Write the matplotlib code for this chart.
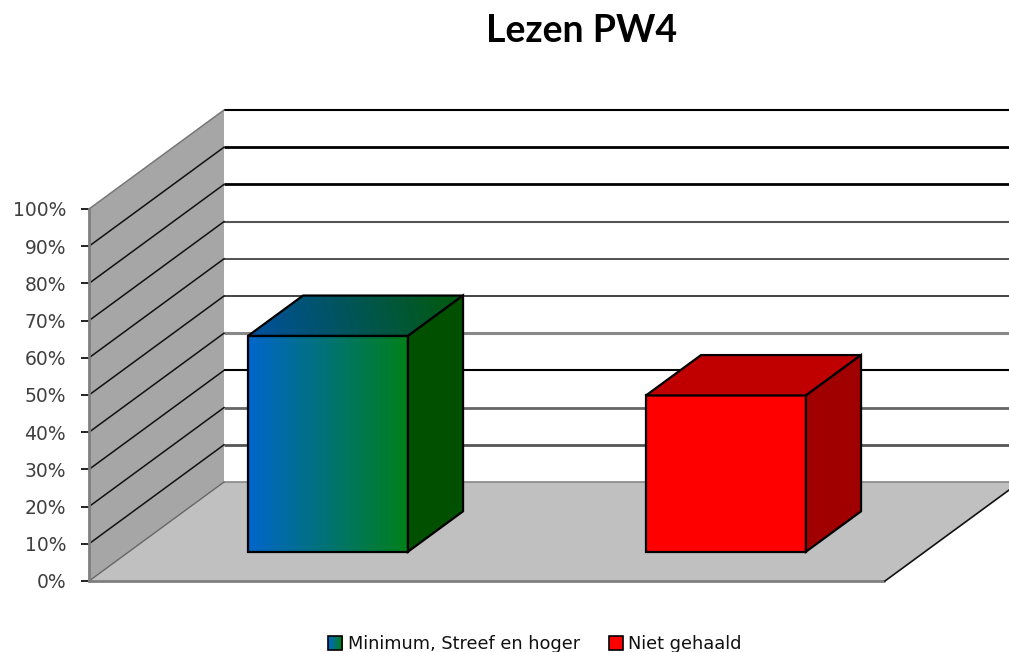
import numpy as np
import matplotlib
matplotlib.use("Agg")
import matplotlib.pyplot as plt
from matplotlib.colors import LinearSegmentedColormap
from matplotlib.legend_handler import HandlerBase
from matplotlib.patches import Patch, Polygon, Rectangle

title = "Lezen PW4"
categories = ["Minimum, Streef en hoger", "Niet gehaald"]
values = [58, 42]
y_ticks = [0, 10, 20, 30, 40, 50, 60, 70, 80, 90, 100]
y_tick_labels = ["0%", "10%", "20%", "30%", "40%", "50%", "60%", "70%", "80%", "90%", "100%"]

W, H = 1009, 652
BAR_W = 0.402
DEPTH_X = 135 / 398          # category units for the full floor depth
DEPTH_Y = 99 / 3.72          # percent units for the full floor depth
BAR_D0, BAR_D1 = 0.296, 0.704
X_MAX = 2.4


def proj(x, y, d=0.0):
    return (x + d * DEPTH_X, y + d * DEPTH_Y)


fig = plt.figure(figsize=(W / 100, H / 100), dpi=100)
ax = fig.add_axes([89 / W, 1 - 581 / H, 796 / W, 372 / H])
ax.set_xlim(0, 2)
ax.set_ylim(0, 100)
ax.patch.set_visible(False)
for s in ("top", "right", "bottom"):
    ax.spines[s].set_visible(False)
ax.spines["left"].set_color("#7f7f7f")
ax.spines["left"].set_linewidth(2)
ax.set_xticks([])
ax.set_yticks(y_ticks)
ax.set_yticklabels(y_tick_labels, fontsize=13.5, color="#404040",
                   family="DejaVu Sans")
ax.tick_params(axis="y", length=6, width=1.3, color="#111111", pad=10.5)


def poly(points, **kw):
    p = Polygon(points, closed=True, clip_on=False, **kw)
    ax.add_patch(p)
    return p


# Walls and floor
poly([proj(0, 0), proj(0, 100), proj(0, 100, 1), proj(0, 0, 1)],
     facecolor="#a6a6a6", edgecolor="none", zorder=1)
poly([proj(0, 0), proj(2, 0), proj(2, 0, 1), proj(X_MAX, 0, 1), proj(0, 0, 1)],
     facecolor="#c0c0c0", edgecolor="none", zorder=1)

# Gridlines
grid_colors = ["#888888", "#555555", "#666666", "#000000", "#888888", "#222222",
               "#333333", "#555555", "#000000", "#000000", "#000000"]
grid_widths = [1.2, 2.0, 2.0, 1.5, 2.2, 1.2, 1.2, 1.5, 2.0, 2.0, 1.5]
for t, c, lw in zip(y_ticks, grid_colors, grid_widths):
    x0, y0 = proj(0, t, 1)
    ax.plot([x0, X_MAX], [y0, y0], color=c, lw=lw, zorder=1.5, clip_on=False,
            solid_capstyle="butt")
    if t > 0:
        xa, ya = proj(0, t)
        ax.plot([xa, x0], [ya, y0], color="#111111" if t < 100 else "#777777",
                lw=1.1, zorder=1.6, clip_on=False)
# Edges of the floor
ax.plot([0, 2], [0, 0], color="#7f7f7f", lw=2, zorder=1.7, clip_on=False,
        solid_capstyle="butt")
ax.plot(*zip(proj(0, 0), proj(0, 0, 1)), color="#666666", lw=1, zorder=1.7, clip_on=False)
ax.plot(*zip(proj(2, 0), proj(2, 0, 1)), color="#111111", lw=1.2, zorder=1.7, clip_on=False)


def rgb(*c):
    return tuple(v / 255 for v in c)


front_cmap = LinearSegmentedColormap.from_list("front", [rgb(0, 102, 204), rgb(0, 128, 26)])
top_cmap = LinearSegmentedColormap.from_list("top", [rgb(0, 80, 160), rgb(0, 90, 16)])
ramp = np.linspace(0, 1, 256).reshape(1, -1)
diag = np.add.outer(np.linspace(0.05, 0, 64), np.linspace(0, 1, 256))

fills = [
    dict(front=front_cmap, top=top_cmap, side="#005000"),
    dict(front="#ff0000", top="#c00000", side="#a00000"),
]

for i, (v, f) in enumerate(zip(values, fills)):
    cx = i + 0.5
    x0, x1 = cx - BAR_W / 2, cx + BAR_W / 2
    a, b = BAR_D0, BAR_D1
    front = [proj(x0, 0, a), proj(x1, 0, a), proj(x1, v, a), proj(x0, v, a)]
    side = [proj(x1, 0, a), proj(x1, 0, b), proj(x1, v, b), proj(x1, v, a)]
    top = [proj(x0, v, a), proj(x1, v, a), proj(x1, v, b), proj(x0, v, b)]
    edge = dict(edgecolor="#000000", linewidth=1.6, joinstyle="miter")
    if isinstance(f["front"], str):
        poly(front, facecolor=f["front"], zorder=3, **edge)
        poly(top, facecolor=f["top"], zorder=3, **edge)
    else:
        xs, ys = zip(*front)
        ax.imshow(ramp, cmap=f["front"], aspect="auto", zorder=2.9,
                  extent=(min(xs), max(xs), min(ys), max(ys)), clip_on=False)
        poly(front, facecolor="none", zorder=3, **edge)
        xs, ys = zip(*top)
        im = ax.imshow(diag, cmap=f["top"], aspect="auto", zorder=2.9, vmin=0, vmax=1,
                       extent=(min(xs), max(xs), min(ys), max(ys)))
        im.set_clip_path(Polygon(top, closed=True, transform=ax.transData))
        poly(top, facecolor="none", zorder=3, **edge)
    poly(side, facecolor=f["side"], zorder=3, **edge)

ax.set_xlim(0, 2)
ax.set_ylim(0, 100)


class GradientHandler(HandlerBase):
    def create_artists(self, legend, orig_handle, xd, yd, width, height, fontsize, trans):
        n = 14
        arts = []
        for k in range(n):
            r = Rectangle((-xd + width * k / n, -yd), width / n + 0.3, height,
                          facecolor=front_cmap(k / (n - 1)), edgecolor="none", transform=trans)
            arts.append(r)
        arts.append(Rectangle((-xd, -yd), width, height, facecolor="none",
                              edgecolor="#000000", linewidth=1.2, transform=trans))
        return arts


h0 = Patch(label=categories[0])
h1 = Patch(facecolor="#ff0000", edgecolor="#000000", linewidth=1.2, label=categories[1])
fig.legend(handles=[h0, h1], handler_map={h0: GradientHandler()},
           loc="center", bbox_to_anchor=(535 / W, 1 - 644 / H), ncol=2, frameon=False,
           fontsize=12.8, handlelength=0.79, handleheight=0.79, handletextpad=0.31,
           columnspacing=1.63, labelcolor="#111111", borderpad=0)

fig.text(582 / W, 1 - 31 / H, title, ha="center", va="center", fontsize=27,
         fontweight="bold", family="Lato", color="#000000")

fig.savefig("out.png", dpi=100)
